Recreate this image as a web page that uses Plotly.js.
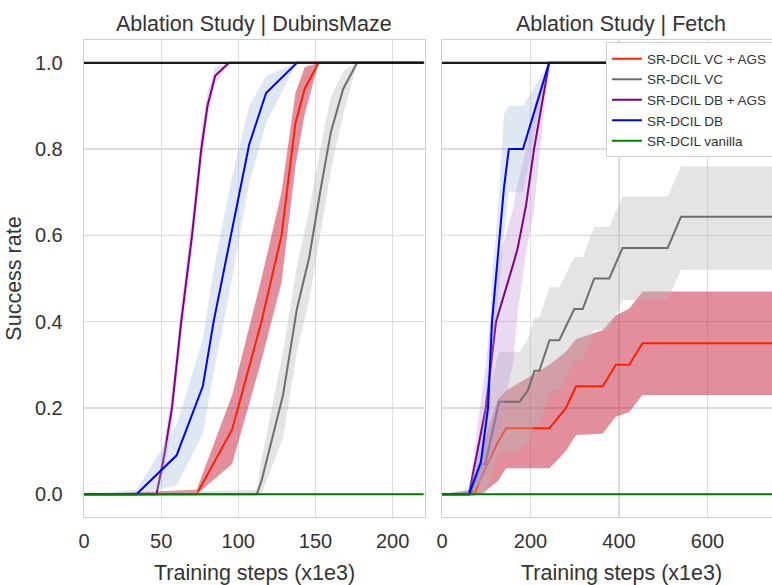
<!DOCTYPE html>
<html><head><meta charset="utf-8">
<script src="https://cdn.plot.ly/plotly-3.0.1.min.js"></script>
<style>html,body{margin:0;padding:0;overflow:hidden;background:#fff}</style>
</head><body><div id="chart"></div>
<script>
// ---------- data: Ablation Study | DubinsMaze ----------
const mazeVcAgsX     = [0, 73, 96, 115, 128, 137, 143, 152, 220];
const mazeVcAgsMean  = [0, 0, 0.15, 0.40, 0.60, 0.86, 0.94, 1, 1];
const mazeVcAgsUpper = [0, 0.01, 0.23, 0.50, 0.70, 0.93, 0.99, 1, 1];
const mazeVcAgsLower = [0, 0, 0.07, 0.31, 0.49, 0.76, 0.88, 1, 1];

const mazeVcX     = [0, 112, 115, 129, 138, 146, 153, 160, 168, 177, 220];
const mazeVcMean  = [0, 0, 0.03, 0.23, 0.43, 0.55, 0.70, 0.84, 0.94, 1, 1];
const mazeVcUpper = [0, 0.01, 0.08, 0.33, 0.53, 0.66, 0.80, 0.92, 0.98, 1, 1];
const mazeVcLower = [0, 0, 0, 0.13, 0.33, 0.45, 0.60, 0.75, 0.88, 1, 1];

const mazeDbAgsX     = [0, 47, 52, 57, 63, 70, 76, 80, 85, 94, 220];
const mazeDbAgsMean  = [0, 0, 0.09, 0.20, 0.40, 0.60, 0.80, 0.90, 0.97, 1, 1];
const mazeDbAgsUpper = [0, 0.005, 0.12, 0.24, 0.44, 0.64, 0.84, 0.93, 0.99, 1, 1];
const mazeDbAgsLower = [0, 0, 0.06, 0.16, 0.36, 0.56, 0.76, 0.87, 0.95, 1, 1];

const mazeDbX     = [0, 34, 60, 77, 84, 95, 107, 118, 138, 220];
const mazeDbMean  = [0, 0, 0.09, 0.25, 0.40, 0.60, 0.81, 0.93, 1, 1];
const mazeDbUpper = [0, 0.01, 0.16, 0.36, 0.52, 0.72, 0.90, 0.97, 1, 1];
const mazeDbLower = [0, 0, 0.02, 0.14, 0.28, 0.48, 0.72, 0.86, 1, 1];

const mazeVanillaX    = [0, 220];
const mazeVanillaMean = [0, 0];
const mazeMaxX = [0, 220];
const mazeMaxY = [1, 1];

// ---------- data: Ablation Study | Fetch ----------
const fetchVcAgsX     = [0, 73, 89, 126, 145, 243, 280, 303, 363, 393, 423, 453, 820];
const fetchVcAgsMean  = [0, 0, 0.04, 0.12, 0.153, 0.153, 0.20, 0.25, 0.25, 0.30, 0.30, 0.35, 0.35];
const fetchVcAgsUpper = [0, 0.01, 0.10, 0.22, 0.24, 0.30, 0.33, 0.36, 0.38, 0.415, 0.43, 0.47, 0.47];
const fetchVcAgsLower = [0, 0, 0, 0.03, 0.06, 0.06, 0.10, 0.137, 0.14, 0.18, 0.19, 0.23, 0.23];

const fetchVcX     = [0, 65, 88, 98, 129, 175, 194, 209, 220, 243, 265, 299, 318, 344, 378, 408, 510, 540, 820];
const fetchVcMean  = [0, 0, 0.07, 0.07, 0.214, 0.214, 0.24, 0.286, 0.286, 0.357, 0.357, 0.429, 0.429, 0.50, 0.50, 0.571, 0.571, 0.643, 0.643];
const fetchVcUpper = [0, 0.01, 0.16, 0.20, 0.33, 0.33, 0.36, 0.41, 0.41, 0.48, 0.48, 0.55, 0.55, 0.62, 0.62, 0.69, 0.69, 0.76, 0.76];
const fetchVcLower = [0, 0, 0, 0, 0.10, 0.10, 0.12, 0.16, 0.16, 0.24, 0.24, 0.31, 0.31, 0.38, 0.38, 0.45, 0.45, 0.52, 0.52];

const fetchDbAgsX     = [0, 61, 99, 122, 160, 171, 190, 208, 242, 820];
const fetchDbAgsMean  = [0, 0, 0.20, 0.40, 0.53, 0.57, 0.67, 0.80, 1, 1];
const fetchDbAgsUpper = [0, 0.01, 0.30, 0.52, 0.66, 0.72, 0.80, 0.90, 1, 1];
const fetchDbAgsLower = [0, 0, 0.04, 0.12, 0.30, 0.42, 0.56, 0.66, 1, 1];

const fetchDbX     = [0, 61, 88, 104, 113, 122, 129, 140, 151, 183, 242, 820];
const fetchDbMean  = [0, 0, 0.075, 0.20, 0.40, 0.50, 0.59, 0.71, 0.80, 0.80, 1, 1];
const fetchDbUpper = [0, 0.01, 0.12, 0.28, 0.50, 0.60, 0.70, 0.88, 0.90, 0.90, 1, 1];
const fetchDbLower = [0, 0, 0.03, 0.12, 0.30, 0.40, 0.48, 0.60, 0.70, 0.70, 1, 1];

const fetchVanillaX    = [0, 820];
const fetchVanillaMean = [0, 0];
const fetchMaxX = [0, 820];
const fetchMaxY = [1, 1];

const seriesNames = ['SR-DCIL VC + AGS', 'SR-DCIL VC', 'SR-DCIL DB + AGS', 'SR-DCIL DB', 'SR-DCIL vanilla'];
const panelTitles = ['Ablation Study | DubinsMaze', 'Ablation Study | Fetch'];
const xAxisTitle = 'Training steps (x1e3)';
const yAxisTitle = 'Success rate';
const xTickVals = [[0, 50, 100, 150, 200], [0, 200, 400, 600, 800]];
const yTickVals = [0, 0.2, 0.4, 0.6, 0.8, 1.0];

// ---------- styling ----------
const lineColors = ['#ff2000', '#6e6e6e', '#800080', '#0000ff', '#008000'];
const bandColors = ['rgba(200,30,60,0.5)', 'rgba(185,185,185,0.38)', 'rgba(195,150,215,0.35)', 'rgba(150,175,215,0.3)', 'rgba(0,128,0,0.2)'];

const traces = [];
function band(xa, ya, x, lo, hi, i) {
  traces.push({
    x: x.concat(x.slice().reverse()),
    y: hi.concat(lo.slice().reverse()),
    xaxis: xa, yaxis: ya, type: 'scatter', mode: 'lines',
    fill: 'toself', fillcolor: bandColors[i], line: {width: 0},
    hoverinfo: 'skip', showlegend: false
  });
}
function line(xa, ya, x, y, i, legend) {
  traces.push({
    x: x, y: y, xaxis: xa, yaxis: ya, type: 'scatter', mode: 'lines',
    line: {color: lineColors[i], width: 2}, name: seriesNames[i],
    showlegend: legend
  });
}
const panels = [
  {xa: 'x', ya: 'y', s: [
    [mazeVcAgsX, mazeVcAgsMean, mazeVcAgsLower, mazeVcAgsUpper],
    [mazeVcX, mazeVcMean, mazeVcLower, mazeVcUpper],
    [mazeDbAgsX, mazeDbAgsMean, mazeDbAgsLower, mazeDbAgsUpper],
    [mazeDbX, mazeDbMean, mazeDbLower, mazeDbUpper],
    [mazeVanillaX, mazeVanillaMean, null, null]], maxX: mazeMaxX, maxY: mazeMaxY},
  {xa: 'x2', ya: 'y2', s: [
    [fetchVcAgsX, fetchVcAgsMean, fetchVcAgsLower, fetchVcAgsUpper],
    [fetchVcX, fetchVcMean, fetchVcLower, fetchVcUpper],
    [fetchDbAgsX, fetchDbAgsMean, fetchDbAgsLower, fetchDbAgsUpper],
    [fetchDbX, fetchDbMean, fetchDbLower, fetchDbUpper],
    [fetchVanillaX, fetchVanillaMean, null, null]], maxX: fetchMaxX, maxY: fetchMaxY}
];
panels.forEach((p, pi) => {
  p.s.forEach((d, i) => {
    if (d[2]) band(p.xa, p.ya, d[0], d[2], d[3], i);
    if (i < 4) line(p.xa, p.ya, d[0], d[1], i, pi === 1);
  });
  traces.push({x: p.maxX, y: p.maxY, xaxis: p.xa, yaxis: p.ya, type: 'scatter', mode: 'lines',
    line: {color: '#1a1a1a', width: 2.4}, showlegend: false, hoverinfo: 'skip'});
  const v = p.s[4];
  line(p.xa, p.ya, v[0], v[1], 4, pi === 1);
});

const font = {family: 'Liberation Sans, Arial, sans-serif', color: '#333'};
const axisCommon = {
  showline: true, mirror: true, linecolor: '#cfcfcf', linewidth: 1.3,
  showgrid: true, gridcolor: '#dcdcdc', gridwidth: 1.3, zeroline: false,
  ticks: '', tickfont: {size: 20, color: '#333'}
};
const titleFont = {size: 21.5, color: '#333'};
const W = 800;
const layout = {
  width: W, height: 585,
  margin: {l: 84, r: 0, t: 40, b: 68},
  paper_bgcolor: '#fff', plot_bgcolor: '#fff',
  font: font, showlegend: true,
  xaxis: Object.assign({}, axisCommon, {domain: [0, 0.4763], range: [0, 221], tickvals: xTickVals[0],
    ticklabelstandoff: 6}),
  xaxis2: Object.assign({}, axisCommon, {domain: [0.5, 1], range: [0, 809], tickvals: xTickVals[1],
    ticklabelstandoff: 6}),
  yaxis: Object.assign({}, axisCommon, {range: [-0.053, 1.053], tickvals: yTickVals, tickformat: '.1f',
    ticklabelstandoff: 16, title: {text: yAxisTitle, font: titleFont, standoff: 7}}),
  yaxis2: Object.assign({}, axisCommon, {range: [-0.053, 1.053], tickvals: yTickVals, showticklabels: false}),
  legend: {x: 0.729, y: 0.995, xanchor: 'left', yanchor: 'top', bgcolor: '#fff',
    bordercolor: '#d0d0d0', borderwidth: 1, font: {size: 13.5, color: '#333'}, itemwidth: 30, tracegroupgap: 0},
  annotations: panelTitles.map((t, i) => ({
    text: t, xref: 'paper', yref: 'paper', x: i === 0 ? 0.2381 : 0.75, y: 1.0335,
    xanchor: 'center', yanchor: 'middle', showarrow: false, font: titleFont
  })).concat([0.2381, 0.75].map(xc => ({
    text: xAxisTitle, xref: 'paper', yref: 'paper', x: xc, y: -0.1174,
    xanchor: 'center', yanchor: 'middle', showarrow: false, font: titleFont
  })))
};
layout.xaxis2.anchor = 'y2';
layout.yaxis2.anchor = 'x2';
Plotly.newPlot('chart', traces, layout, {displayModeBar: false, staticPlot: true});
</script>
</body></html>
